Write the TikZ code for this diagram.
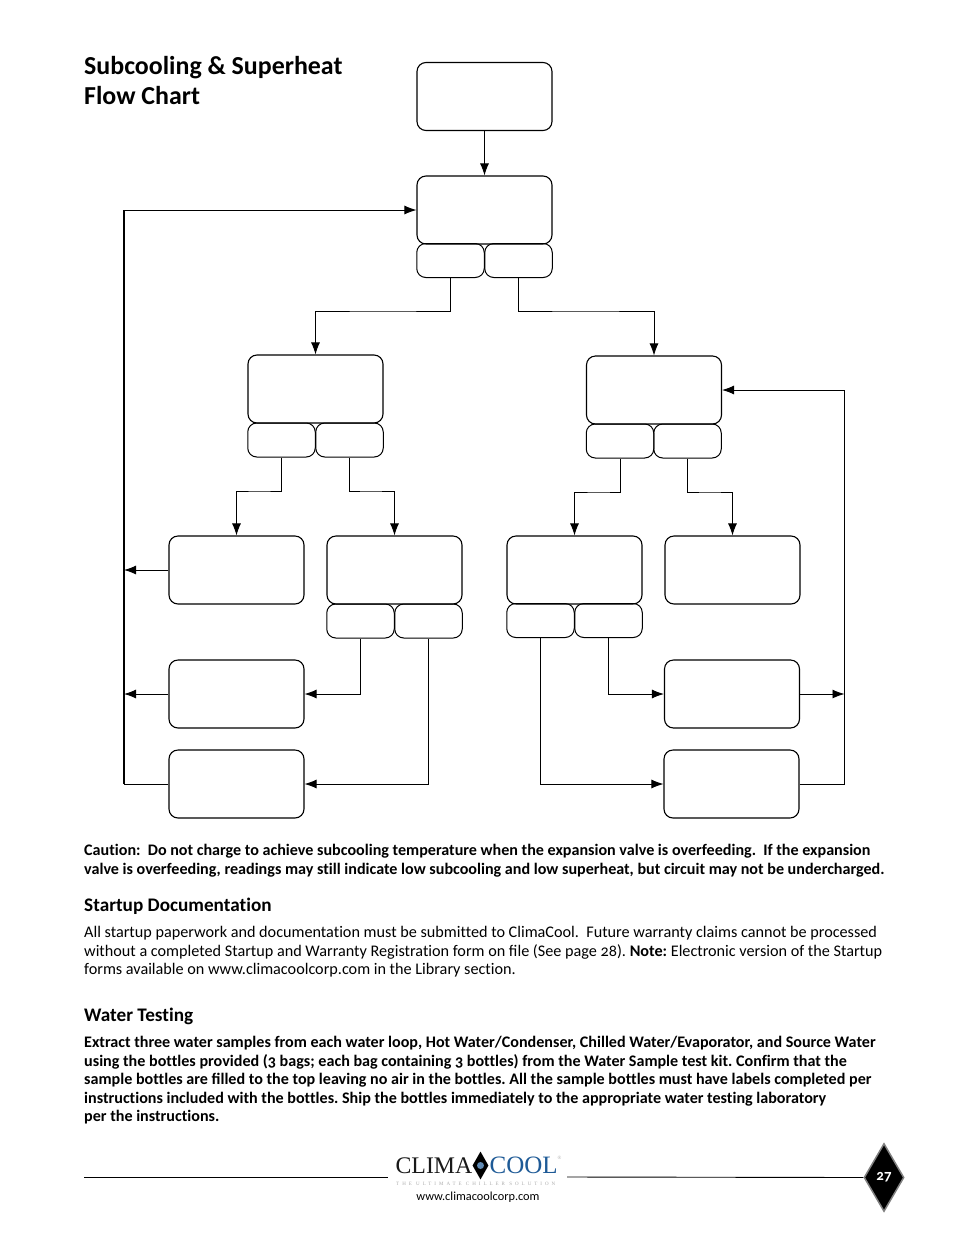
\documentclass[tikz,border=0pt]{standalone}
\usepackage{fontspec}
\setmainfont[Ligatures=NoCommon, Numbers=OldStyle]{Carlito}
\newfontfamily\logofont{Liberation Serif}
\newfontfamily\tagfont[LetterSpace=60]{Liberation Serif}
\usetikzlibrary{
    arrows.meta,
    positioning,
    shapes.geometric
}
\definecolor{LogoBlue}{RGB}{30,90,150}
\definecolor{LogoGray}{RGB}{170,170,170}
\tikzset{
    flowbox/.style={draw, rounded corners=9pt, line width=1.1pt, minimum width=135pt, minimum height=68pt, inner sep=0pt},
    answerbox/.style={draw, rounded corners=9pt, line width=1pt, minimum width=67.5pt, minimum height=34pt, inner sep=0pt},
    flowline/.style={-{Latex[length=12pt,width=9pt]}, line width=0.9pt},
    plainline/.style={line width=0.9pt},
    bodytext/.style={anchor=north west, align=left, inner sep=0pt, font=\frenchspacing\fontsize{16.2}{18.55}\selectfont},
    boldtext/.style={bodytext, font=\frenchspacing\fontsize{16.1}{18.6}\selectfont\bfseries},
    headtext/.style={anchor=west, inner sep=0pt, font=\fontsize{19.2}{22}\selectfont\bfseries}
}

\begin{document}
\begin{tikzpicture}[
    x=1pt,
    y=-1pt
]

\useasboundingbox (0,0) rectangle (954,1235);

% Title
\node[anchor=north west, align=left, inner sep=0pt, font=\fontsize{25.9}{30}\selectfont\bfseries] (title) at (84,56.5)
    {Subcooling \& Superheat\\Flow Chart};

% Main boxes
\node[flowbox] (start) at (484.5,96.5) {};
\node[flowbox] (check) at (484.5,210) {};
\node[flowbox] (low) at (315.5,389) {};
\node[flowbox] (high) at (654,390) {};
\node[flowbox] (lowa) at (236.5,570) {};
\node[flowbox] (lowb) at (394.5,570) {};
\node[flowbox] (higha) at (574.5,570) {};
\node[flowbox] (highb) at (732.5,570) {};
\node[flowbox] (adda) at (236.5,694) {};
\node[flowbox] (addb) at (236.5,784) {};
\node[flowbox] (vala) at (732,694) {};
\node[flowbox] (valb) at (731.5,784) {};

% Answer boxes
\node[answerbox] (checkyes) at (450.5,260.5) {};
\node[answerbox] (checkno) at (518.5,260.5) {};
\node[answerbox] (lowyes) at (281.5,440) {};
\node[answerbox] (lowno) at (349.5,440) {};
\node[answerbox] (highyes) at (620,441) {};
\node[answerbox] (highno) at (687.5,441) {};
\node[answerbox] (lowbyes) at (360.5,621) {};
\node[answerbox] (lowbno) at (428.5,621) {};
\node[answerbox] (highayes) at (540.5,620.5) {};
\node[answerbox] (highano) at (608.5,620.5) {};

% Return lines
\coordinate (busleft) at (124,210);
\coordinate (busright) at (844.5,390);

% Arrows
\draw[flowline] (start) -- (check);
\draw[flowline] (checkyes.south) |- (383,311) -| (low.north);
\draw[flowline] (checkno.south) |- (585,311) -| (high.north);
\draw[flowline] (lowyes.south) |- (260,491) -| (lowa.north);
\draw[flowline] (lowno.south) |- (370,491) -| (lowb.north);
\draw[flowline] (highyes.south) |- (600,492) -| (higha.north);
\draw[flowline] (highno.south) |- (710,492) -| (highb.north);
\draw[flowline] (lowbyes.south) |- (adda.east);
\draw[flowline] (lowbno.south) |- (addb.east);
\draw[flowline] (highano.south) |- (vala.west);
\draw[flowline] (highayes.south) |- (valb.west);
\draw[flowline] (lowa.west) -- (lowa.west -| busleft);
\draw[flowline] (adda.west) -- (adda.west -| busleft);
\draw[flowline] (addb.west) -| (busleft) -- (check.west);
\draw[plainline, line width=1.4pt] (addb.west -| busleft) -- (busleft);
\draw[flowline] (vala.east) -- (vala.east -| busright);
\draw[flowline] (valb.east) -| (busright) -- (high.east);

% Text below the chart
\node[boldtext] (caution) at (84,844)
    {Caution:\ \ Do not charge to achieve subcooling temperature when the expansion valve is overfeeding.\ \ If the expansion\\
     valve is overfeeding, readings may still indicate low subcooling and low superheat, but circuit may not be undercharged.};

\node[headtext] (startup) at (84,906.5) {Startup Documentation};

\node[bodytext] (startuptext) at (84,926)
    {All startup paperwork and documentation must be submitted to ClimaCool.\ \ Future warranty claims cannot be processed\\
     without a completed Startup and Warranty Registration form on ﬁle (See page 28). \textbf{Note:} Electronic version of the Startup\\
     forms available on www.climacoolcorp.com in the Library section.};

\node[headtext] (water) at (84,1016.5) {Water Testing};

\node[boldtext] (watertext) at (84,1036)
    {Extract three water samples from each water loop, Hot Water/Condenser, Chilled Water/Evaporator, and Source Water\\
     using the bottles provided (3 bags; each bag containing 3 bottles) from the Water Sample test kit. Confirm that the\\
     sample bottles are ﬁlled to the top leaving no air in the bottles. All the sample bottles must have labels completed per\\
     instructions included with the bottles. Ship the bottles immediately to the appropriate water testing laboratory\\
     per the instructions.};

% Footer
\node[diamond, draw=gray, fill=black, line width=1.5pt, minimum width=40pt, minimum height=68pt, inner sep=0pt, aspect=0.6,
      text=white, font=\fontsize{15}{15}\selectfont\bfseries] (pagenum) at (884,1177.5) {27};
\coordinate (ruleone) at (84,1177);
\coordinate (ruletwo) at (388,1177);
\coordinate (rulethree) at (567,1177);
\draw[plainline] (ruleone) -- (ruletwo);
\draw[plainline] (rulethree) -- (pagenum.west);

% Logo
\node[diamond, fill=black, minimum width=16pt, minimum height=28pt, inner sep=0pt, aspect=0.6] (logomark) at (480.5,1165.5) {};
\node[circle, fill=LogoBlue!70, minimum size=7pt, inner sep=0pt] (logodrop) at (logomark) {};
\node[anchor=east, inner sep=0pt, font=\logofont\fontsize{23.8}{25}\selectfont, text=black!90] (logoclima) at (472.5,1165.5) {CLIMA};
\node[anchor=west, inner sep=0pt, font=\logofont\fontsize{25}{25}\selectfont, text=LogoBlue] (logocool) at (489.5,1165.5) {COOL};
\node[anchor=west, inner sep=0pt, font=\logofont\fontsize{5}{5}\selectfont, text=LogoGray] (logoreg) at (557.5,1157.5) {®};
\node[anchor=west, inner sep=0pt, font=\tagfont\fontsize{5}{5}\selectfont, text=LogoGray] (logotag) at (396,1184)
    {THE ULTIMATE CHILLER SOLUTION};
\node[inner sep=0pt, font=\fontsize{12.3}{12}\selectfont] (website) at (478,1197.5) {www.climacoolcorp.com};

\end{tikzpicture}
\end{document}
